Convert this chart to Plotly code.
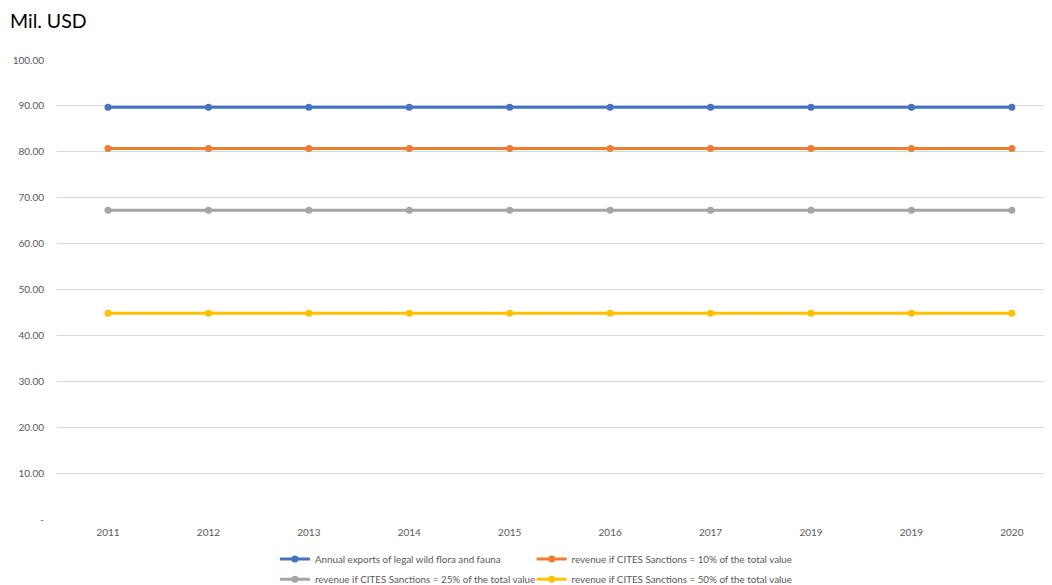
import plotly.graph_objects as go

years = ["2011", "2012", "2013", "2014", "2015", "2016", "2017", "2019", "2019", "2020"]
annual_exports = [89.70, 89.70, 89.70, 89.70, 89.70, 89.70, 89.70, 89.70, 89.70, 89.70]
rev_10 = [80.73, 80.73, 80.73, 80.73, 80.73, 80.73, 80.73, 80.73, 80.73, 80.73]
rev_25 = [67.28, 67.28, 67.28, 67.28, 67.28, 67.28, 67.28, 67.28, 67.28, 67.28]
rev_50 = [44.85, 44.85, 44.85, 44.85, 44.85, 44.85, 44.85, 44.85, 44.85, 44.85]
y_ticks = [0, 10, 20, 30, 40, 50, 60, 70, 80, 90, 100]
y_tick_labels = ["-", "10.00", "20.00", "30.00", "40.00", "50.00", "60.00", "70.00", "80.00", "90.00", "100.00"]

series = [
    ("Annual exports of legal wild flora and fauna", annual_exports, "#4472C4", "legend"),
    ("revenue if CITES Sanctions = 10% of the total value", rev_10, "#ED7D31", "legend2"),
    ("revenue if CITES Sanctions = 25% of the total value", rev_25, "#A5A5A5", "legend3"),
    ("revenue if CITES Sanctions = 50% of the total value", rev_50, "#FFC000", "legend4"),
]

FONT = "Lato, 'Open Sans', sans-serif"
x_idx = list(range(len(years)))

fig = go.Figure()
for name, vals, color, leg in series:
    fig.add_trace(go.Scatter(
        x=x_idx, y=vals, name=name, mode="lines+markers",
        line=dict(color=color, width=3),
        marker=dict(color=color, size=7),
        legend=leg, showlegend=True,
    ))

legend_common = dict(
    orientation="h", xanchor="left", yanchor="middle",
    font=dict(family=FONT, size=9.8, color="#595959"),
    itemwidth=30, tracegroupgap=0,
    bgcolor="rgba(0,0,0,0)",
)

# page body has an 8px default margin, so the figure is sized 8px smaller
fig.update_layout(
    width=1044, height=577,
    showlegend=True,
    margin=dict(l=49, r=0, t=52, b=66, autoexpand=False),
    paper_bgcolor="white", plot_bgcolor="white",
    font=dict(family=FONT, color="#595959"),
    xaxis=dict(
        range=[-0.508, 9.40],
        tickvals=x_idx, ticktext=years,
        showgrid=False, zeroline=False, showline=False,
        tickfont=dict(family=FONT, size=10, color="#595959"),
        ticks="", ticklabelstandoff=6, automargin=False,
    ),
    yaxis=dict(
        range=[0, 100],
        tickvals=y_ticks, ticktext=y_tick_labels,
        showgrid=True, gridcolor="#D9D9D9", gridwidth=1,
        zeroline=False, showline=False,
        tickfont=dict(family=FONT, size=10, color="#595959"),
        ticks="", ticklabelstandoff=12, automargin=False,
    ),
    legend=dict(x=0.219, y=-0.087, **legend_common),
    legend2=dict(x=0.477, y=-0.087, **legend_common),
    legend3=dict(x=0.219, y=-0.131, **legend_common),
    legend4=dict(x=0.477, y=-0.131, **legend_common),
    annotations=[dict(
        text="Mil. USD", xref="paper", yref="paper",
        x=-0.049, y=1.087, xanchor="left", yanchor="middle",
        showarrow=False, font=dict(family=FONT, size=19.5, color="#000000"),
    )],
)

fig.write_html("out.html")
